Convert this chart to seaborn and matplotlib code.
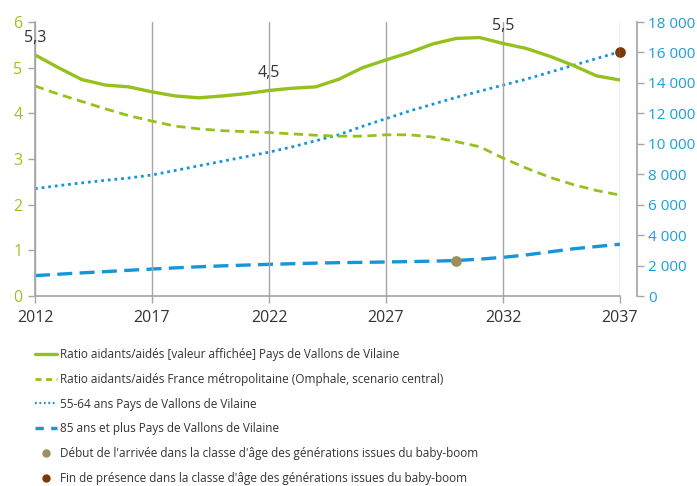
import matplotlib
matplotlib.use("Agg")
import matplotlib.pyplot as plt
import matplotlib.ticker as mticker
from matplotlib.lines import Line2D
import pandas as pd
import seaborn as sns

YEARS = list(range(2012, 2038))

RATIO_VALLONS = [5.28, 5.00, 4.74, 4.62, 4.58, 4.47, 4.38, 4.34, 4.38, 4.43, 4.50, 4.55, 4.58,
                 4.75, 5.00, 5.17, 5.33, 5.52, 5.64, 5.66, 5.53, 5.42, 5.25, 5.05, 4.82, 4.73]
RATIO_FRANCE = [4.60, 4.42, 4.26, 4.10, 3.95, 3.83, 3.72, 3.66, 3.62, 3.60, 3.58, 3.55, 3.52,
                3.50, 3.50, 3.53, 3.53, 3.48, 3.38, 3.27, 3.02, 2.80, 2.60, 2.44, 2.31, 2.21]
POP_55_64 = [7050, 7250, 7430, 7600, 7750, 7950, 8250, 8550, 8850, 9150, 9450, 9800, 10200,
             10600, 11150, 11650, 12150, 12600, 13050, 13450, 13850, 14250, 14700, 15150, 15600, 16050]
POP_85_PLUS = [1340, 1430, 1520, 1600, 1690, 1770, 1850, 1920, 1980, 2030, 2080, 2120, 2160,
               2190, 2210, 2235, 2260, 2290, 2330, 2420, 2540, 2700, 2900, 3100, 3250, 3400]

LABEL_YEARS = [2012, 2022, 2032]
LABEL_TEXTS = ["5,3", "4,5", "5,5"]

DEBUT_YEAR, DEBUT_VALUE = 2030, 2330
FIN_YEAR, FIN_VALUE = 2037, 16050

GREEN = "#95c11f"
BLUE = "#1496d8"
GREY = "#a6a6a6"
DOTTED = (0, (1, 1.4))
DASH_BLUE = (0, (4.5, 2.2))
DASH_GREEN = (0, (3.3, 2.0))

LEGEND_LABELS = [
    "Ratio aidants/aidés [valeur affichée] Pays de Vallons de Vilaine",
    "Ratio aidants/aidés France métropolitaine (Omphale, scenario central)",
    "55-64 ans Pays de Vallons de Vilaine",
    "85 ans et plus Pays de Vallons de Vilaine",
    "Début de l'arrivée dans la classe d'âge des générations issues du baby-boom",
    "Fin de présence dans la classe d'âge des générations issues du baby-boom",
]


def main() -> None:
    sns.set_theme(style="white")
    plt.rcParams["font.family"] = ["Open Sans", "DejaVu Sans"]

    df = pd.DataFrame({
        "annee": YEARS,
        "ratio_vallons": RATIO_VALLONS,
        "ratio_france": RATIO_FRANCE,
        "pop_55_64": POP_55_64,
        "pop_85": POP_85_PLUS,
    })

    fig = plt.figure(figsize=(6.97, 4.86), dpi=100)
    ax = fig.add_axes([35 / 697, 1 - 296 / 486, 585 / 697, 274 / 486])
    ax2 = ax.twinx()

    sns.lineplot(data=df, x="annee", y="pop_55_64", ax=ax2, color=BLUE, lw=2,
                 linestyle=DOTTED)
    sns.lineplot(data=df, x="annee", y="pop_85", ax=ax2, color=BLUE, lw=2.4,
                 linestyle=DASH_BLUE)
    ax2.scatter([DEBUT_YEAR], [DEBUT_VALUE], s=45, color="#9b8f5a", zorder=5)
    ax2.scatter([FIN_YEAR], [FIN_VALUE], s=45, color="#7a3a05", zorder=5, clip_on=False)

    sns.lineplot(data=df, x="annee", y="ratio_vallons", ax=ax, color=GREEN, lw=2.4)
    sns.lineplot(data=df, x="annee", y="ratio_france", ax=ax, color=GREEN, lw=2,
                 linestyle=DASH_GREEN)

    for year, text in zip(LABEL_YEARS, LABEL_TEXTS):
        value = RATIO_VALLONS[YEARS.index(year)]
        ax.annotate(text, (year, value), xytext=(0, 12.5), textcoords="offset points",
                    ha="center", va="center", fontsize=11.5, color="#333333",
                    annotation_clip=False)

    ax.set_zorder(ax2.get_zorder() + 1)
    ax.patch.set_visible(False)

    ax.set_xlim(2012, 2037)
    ax.set_ylim(0, 6)
    ax2.set_ylim(0, 18000)
    ax.set_xticks(range(2012, 2038, 5))
    ax.set_yticks(range(0, 7))
    ax2.set_yticks(range(0, 18001, 2000))
    ax2.yaxis.set_major_formatter(
        mticker.FuncFormatter(lambda v, _: f"{int(v):,}".replace(",", " ")))

    ax.set_xlabel("")
    ax.set_ylabel("")
    ax2.set_ylabel("")

    ax.grid(axis="x", color=GREY, lw=1)
    ax.grid(axis="y", visible=False)
    ax2.grid(False)

    for spine in ["top", "right"]:
        ax.spines[spine].set_visible(False)
    for spine in ["top", "left", "bottom"]:
        ax2.spines[spine].set_visible(False)
    ax.spines["left"].set_color(GREY)
    ax.spines["bottom"].set_color(GREY)
    ax2.spines["right"].set_color(GREY)
    ax2.spines["right"].set_position(("outward", 12))

    ax.tick_params(axis="x", colors=GREY, labelcolor="#333333", labelsize=11.5,
                   length=5, width=1, direction="out", pad=5, bottom=True)
    ax.tick_params(axis="y", colors=GREY, labelcolor="#9cc31d", labelsize=11.5,
                   length=5, width=1, direction="out", pad=4, left=True)
    ax2.tick_params(axis="y", colors=GREY, labelcolor="#1a9fdc", labelsize=11,
                    length=5, width=1, direction="out", pad=3, right=True)

    handles = [
        Line2D([], [], color=GREEN, lw=2.4),
        Line2D([], [], color=GREEN, lw=2, linestyle=(0, (2.2, 1.6))),
        Line2D([], [], color=BLUE, lw=1.6, linestyle=(0, (0.8, 1.2))),
        Line2D([], [], color=BLUE, lw=2.4, linestyle=(0, (2.5, 2.2))),
        Line2D([], [], color="#9b8f5a", marker="o", ms=5, lw=0),
        Line2D([], [], color="#7a3a05", marker="o", ms=5, lw=0),
    ]
    fig.legend(handles, LEGEND_LABELS, loc="upper left", bbox_to_anchor=(0.05, 0.284),
               frameon=False, fontsize=8.5, handlelength=1.85, handletextpad=0.25,
               labelspacing=1.0, labelcolor="#333333", borderaxespad=0, borderpad=0)

    fig.savefig("out.png", dpi=100)
    plt.close(fig)


if __name__ == "__main__":
    main()
